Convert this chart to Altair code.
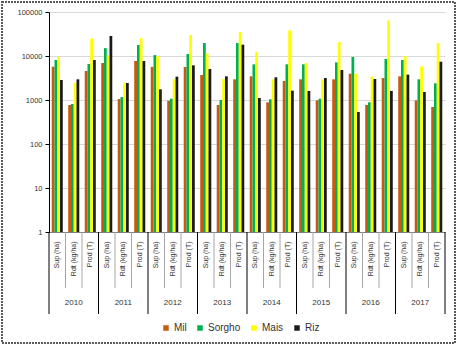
import altair as alt
import pandas as pd

years = ["2010", "2011", "2012", "2013", "2014", "2015", "2016", "2017"]
cats = ["Sup (ha)", "Rdt (kg/ha)", "Prod (T)"]
series = ["Mil", "Sorgho", "Mais", "Riz"]
colors = ["#C55A11", "#00B050", "#FFFF00", "#1A1A1A"]

mil = [5700, 770, 4560, 6930, 1050, 7700, 5650, 965, 5650, 3700, 770, 2950,
       3450, 886, 2700, 2950, 980, 2950, 3960, 770, 3160, 3450, 980, 693]
sorgho = [8100, 810, 6580, 15100, 1170, 17800, 10500, 1070, 11100, 19700, 1000, 19700,
          6470, 1036, 6470, 6470, 1070, 7180, 9490, 886, 8550, 8100, 2950, 2400]
mais = [9700, 2430, 24800, 10400, 2430, 25600, 9900, 2950, 30000, 11500, 3000, 35100,
        12500, 2950, 38300, 6930, 2950, 20800, 3960, 3450, 64700, 9900, 5820, 19700]
riz = [2850, 2950, 8100, 28500, 2430, 7700, 1750, 3390, 6140, 5070, 3450, 18100,
       1110, 3280, 1630, 1610, 3160, 4800, 533, 3000, 1610, 3770, 1520, 7430]

keys = [f"{y}|{c}" for y in years for c in cats]
rows = []
for s, vals in zip(series, [mil, sorgho, mais, riz]):
    for k, v in zip(keys, vals):
        rows.append({"key": k, "series": s, "value": v})
df = pd.DataFrame(rows)

n = len(keys)
short_df = pd.DataFrame({"pos": [i for i in range(1, n) if i % 3 != 0]})
long_df = pd.DataFrame({"pos": list(range(0, n + 1, 3))})
year_df = pd.DataFrame({"year": years, "mid": [3 * i + 1.5 for i in range(len(years))]})

FONT = "Liberation Sans"
qscale = alt.Scale(domain=[0, n], nice=False, zero=False)

bars = alt.Chart(df).mark_bar().encode(
    x=alt.X("key:N", sort=keys,
            scale=alt.Scale(paddingInner=0.33, paddingOuter=0.165),
            axis=alt.Axis(title=None, labelAngle=270, ticks=False,
                          labelExpr="split(datum.value, '|')[1]",
                          labelFont=FONT, labelFontSize=7, labelPadding=9,
                          labelColor="#333333", labelOverlap=False,
                          domainColor="#808080")),
    xOffset=alt.XOffset("series:N", sort=series),
    y=alt.Y("value:Q",
            scale=alt.Scale(type="log", domain=[1, 100000]),
            axis=alt.Axis(title=None, values=[1, 10, 100, 1000, 10000, 100000],
                          format="d", gridColor="#d9d9d9", domainColor="#000000",
                          tickColor="#000000", tickSize=4, labelFont=FONT,
                          labelFontSize=7.5, labelPadding=3, labelColor="#333333")),
    y2=alt.datum(1),
    color=alt.Color("series:N", sort=series,
                    scale=alt.Scale(domain=series, range=colors),
                    legend=alt.Legend(title=None, orient="none", direction="horizontal",
                                      legendX=112, legendY=311, symbolType="square",
                                      symbolSize=30, symbolStrokeWidth=0,
                                      labelFont=FONT, labelFontSize=10,
                                      labelColor="#333333", labelOffset=3,
                                      columnPadding=8, padding=0)),
)

short_rules = alt.Chart(short_df).mark_rule(color="#a6a6a6", strokeWidth=1).encode(
    x=alt.X("pos:Q", scale=qscale, axis=None),
    y=alt.value(220), y2=alt.value(276))

long_rules = alt.Chart(long_df).mark_rule(color="#000000", strokeWidth=1).encode(
    x=alt.X("pos:Q", scale=qscale, axis=None),
    y=alt.value(220), y2=alt.value(302))

year_text = alt.Chart(year_df).mark_text(font=FONT, fontSize=8, color="#333333").encode(
    x=alt.X("mid:Q", scale=qscale, axis=None),
    y=alt.value(291), text="year:N")

frame = alt.Chart(pd.DataFrame({"a": [0]})).mark_rect(
    fillOpacity=0, stroke="#595959", strokeWidth=2, strokeDash=[2, 1]).encode(
    x=alt.value(-47), x2=alt.value(406), y=alt.value(-10), y2=alt.value(331))

chart = alt.layer(bars, short_rules, long_rules, year_text, frame).resolve_scale(
    x="independent").properties(
    width=396, height=220,
    autosize=alt.AutoSizeParams(type="none"),
    padding={"left": 49, "top": 12, "right": 12, "bottom": 113},
).configure_view(strokeWidth=0)

chart.save("out.html", embed_options={"renderer": "svg", "actions": False})
